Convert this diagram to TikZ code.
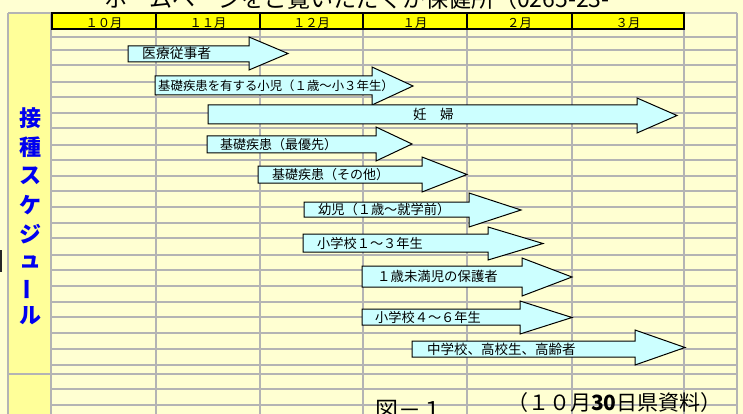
\documentclass[tikz,border=0pt]{standalone}
\usepackage{fontspec}
\usepackage{graphicx}
\setmainfont{Noto Sans CJK JP}
\definecolor{bgy}{HTML}{FFFFD2}
\definecolor{coly}{HTML}{FFFF99}
\definecolor{hdry}{HTML}{FFFF00}
\definecolor{gridg}{HTML}{B4B4B4}
\definecolor{arrc}{HTML}{CCFFFF}
\definecolor{lblue}{HTML}{0000F0}
\tikzset{
  gline/.style={draw=gridg, line width=1.5pt},
  hdrcell/.style={draw=black, line width=1.2pt, fill=hdry},
  barrow/.style={draw=black, line width=1pt, fill=arrc, line join=miter},
  alabel/.style={anchor=base west, inner sep=0pt},
  mlabel/.style={anchor=base, inner sep=0pt, font=\fontsize{12.3}{14}\selectfont},
  vlabel/.style={inner sep=0pt, text=lblue, font=\fontsize{22}{24}\selectfont\bfseries},
}
\begin{document}
\begin{tikzpicture}[x=1pt,y=-1pt]
\useasboundingbox (0,0) rectangle (743,414);
\fill[bgy] (0,0) rectangle (743,414);
% cut-off title at the top
\node[anchor=base west, inner sep=0pt, font=\fontsize{23}{23}\selectfont] (title) at (104,8) {ホームページをご覧いただくか保健所（0265-23-};
% left label column
\fill[coly] (9,13) rectangle (51,414);
% grid
\foreach \y in {37,50,65,82,97,113,128,145,160,176,191,207,223,238,255,270,286,302,317,333,349,365,374,389,405}
  \draw[gline] (51,\y) -- (737,\y);
\foreach \x in {156,260,363,467,572,684}
  \draw[gline] (\x,29) -- (\x,414);
\draw[gline] (737,13) -- (737,414);
\draw[gline] (8,13) -- (8,414);
\draw[gline] (51,13) -- (51,414);
\draw[gline] (8,13) -- (51,13);
\draw[gline] (684,13) -- (737,13);
\draw[gline] (8,374) -- (51,374);
\draw[line width=2pt, black!85] (1,250) -- (1,272);
% header row
\foreach \a/\b/\nm/\t in {52/156/m10/１０月,156/260/m11/１１月,260/363/m12/１２月,363/467/m1/１月,467/572/m2/２月,572/684/m3/３月}{
  \draw[hdrcell] (\a,13) rectangle (\b,29);
  \node[mlabel] (\nm) at ({(\a+\b)/2},27.3) {\t};
}
% vertical label
\node[vlabel] (v1) at (30,118) {接};
\node[vlabel] (v2) at (30,147) {種};
\node[vlabel] (v3) at (30,176) {ス};
\node[vlabel] (v4) at (30,205) {ケ};
\node[vlabel] (v5) at (30,234) {ジ};
\node[vlabel] (v6) at (30,262) {ュ};
\node[vlabel, rotate=90] (v7) at (30,289) {ー};
\node[vlabel] (v8) at (30,316) {ル};
% block arrows
\foreach \x/\t/\b/\h/\ht/\hb/\tip/\tx/\fs/\nm/\lab in {
  128/46/62/249/37/70/288/142/13.8/a1/医療従事者,
  155/76/95/372/67/105/413/158/12.4/a2/基礎疾患を有する小児（１歳～小３年生）,
  208/105/124/637/98/133/677/413/13.5/a3/妊　婦,
  207/136/153/376/127/161/412/220/13/a4/基礎疾患（最優先）,
  258/166/183/422/157/192/467/272/13/a5/基礎疾患（その他）,
  304/202/217/469/193/227/521/318/13.2/a6/幼児（１歳～就学前）,
  303/234/252/488/227/260/543/317/13.2/a7/小学校１～３年生,
  362/266/287/522/258/296/572/377/13.4/a8/１歳未満児の保護者,
  362/309/325/520/301/334/572/375/13.2/a9/小学校４～６年生,
  412/341/357/635/330/365/685/427/13.5/a10/中学校、高校生、高齢者}{
  \path[barrow] (\x,\t) -- (\h,\t) -- (\h,\ht) -- (\tip,{(\ht+\hb)/2}) -- (\h,\hb) -- (\h,\b) -- (\x,\b) -- cycle;
  \node[alabel, font=\fontsize{\fs}{15}\selectfont] (\nm) at (\tx,{(\t+\b)/2+5}) {\lab};
}
% bottom texts
\node[anchor=base west, inner sep=0pt, font=\fontsize{23}{23}\selectfont] (fig) at (375,418) {図－１};
\node[anchor=base west, inner sep=0pt, font=\fontsize{21}{21}\selectfont] (src) at (507,410) {（１０月\textbf{30}日県資料）};
\end{tikzpicture}
\end{document}
